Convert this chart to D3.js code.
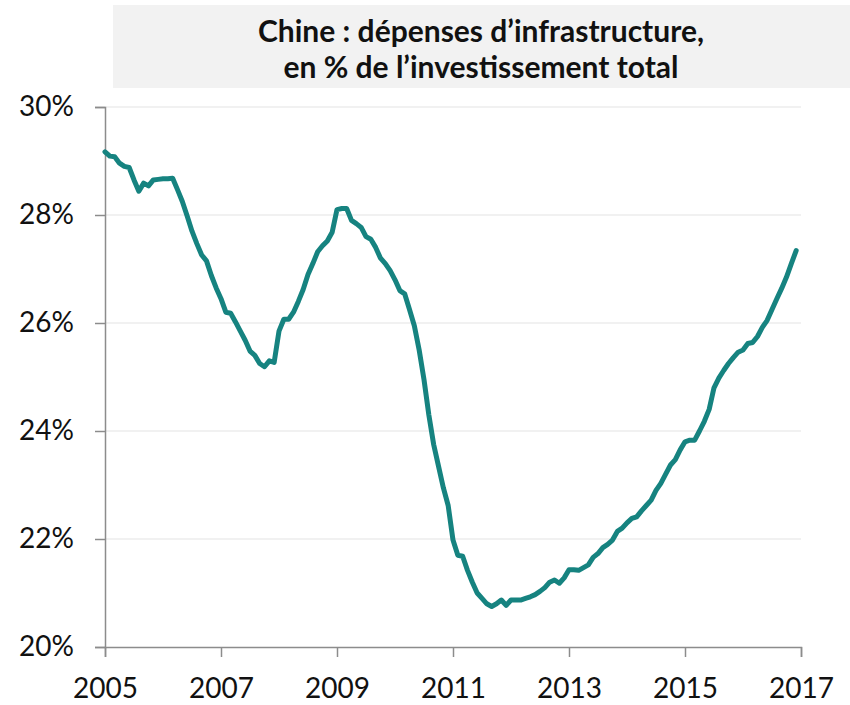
<!DOCTYPE html>
<html><head><meta charset="utf-8">
<script src="https://cdnjs.cloudflare.com/ajax/libs/d3/7.8.5/d3.min.js"></script>
<style>
html,body{margin:0;padding:0;background:#fff;}
svg{display:block;}
</style></head>
<body>
<svg id="chart" width="850" height="705"></svg>
<script>
const startYear = 2005;
const titleLines = ["Chine : dépenses d’infrastructure,", "en % de l’investissement total"];
const yTicks = [20, 22, 24, 26, 28, 30];
const xTickYears = [2005, 2007, 2009, 2011, 2013, 2015, 2017];
// monthly values, Jan 2005 .. Dec 2016 (% of total investment)
const values2005 = [29.17,29.09,29.08,28.96,28.90,28.88,28.65,28.44,28.59,28.54,28.65,28.66];
const values2006 = [28.67,28.67,28.68,28.47,28.25,27.98,27.70,27.47,27.26,27.15,26.88,26.65];
const values2007 = [26.45,26.20,26.18,26.02,25.85,25.68,25.48,25.40,25.25,25.19,25.30,25.27];
const values2008 = [25.85,26.07,26.07,26.20,26.40,26.62,26.90,27.10,27.32,27.43,27.52,27.68];
const values2009 = [28.10,28.12,28.12,27.90,27.84,27.77,27.60,27.55,27.40,27.20,27.10,26.97];
const values2010 = [26.80,26.60,26.54,26.25,25.95,25.50,24.95,24.30,23.75,23.35,22.95,22.62];
const values2011 = [21.98,21.70,21.68,21.42,21.20,21.00,20.90,20.80,20.75,20.80,20.87,20.77];
const values2012 = [20.87,20.87,20.87,20.90,20.93,20.97,21.03,21.10,21.20,21.24,21.18,21.28];
const values2013 = [21.43,21.43,21.42,21.47,21.52,21.66,21.73,21.84,21.90,21.98,22.14,22.20];
const values2014 = [22.30,22.38,22.41,22.52,22.62,22.72,22.90,23.03,23.20,23.37,23.47,23.65];
const values2015 = [23.80,23.83,23.83,24.00,24.18,24.40,24.80,24.98,25.12,25.25,25.36,25.46];
const values2016 = [25.50,25.62,25.64,25.75,25.92,26.05,26.25,26.45,26.64,26.85,27.10,27.34];

const series = [].concat(values2005, values2006, values2007, values2008, values2009, values2010,
  values2011, values2012, values2013, values2014, values2015, values2016);
const data = series.map((v, i) => ({t: startYear + i / 12, v}));

const svg = d3.select("#chart");
const font = "Lato, 'Open Sans', sans-serif";
const mLeft = 105, mRight = 801, mTop = 107, mBottom = 647;

const x = d3.scaleLinear().domain([2005, 2017]).range([mLeft, mRight]);
const y = d3.scaleLinear().domain([20, 30]).range([mBottom, mTop]);

// title box
svg.append("rect").attr("x", 113).attr("y", 5).attr("width", 737).attr("height", 83).attr("fill", "#f2f2f2");
svg.selectAll("text.title").data(titleLines).join("text")
  .attr("class", "title")
  .attr("x", 481).attr("y", (d, i) => 42 + i * 36)
  .attr("text-anchor", "middle")
  .attr("font-family", font).attr("font-weight", "bold").attr("font-size", 30)
  .attr("fill", "#111").text(d => d);

// gridlines
svg.append("g").selectAll("line").data(yTicks.filter(d => d > 20)).join("line")
  .attr("x1", mLeft).attr("x2", mRight).attr("y1", d => y(d)).attr("y2", d => y(d))
  .attr("stroke", "#e3e3e3").attr("stroke-width", 1.2);

// y axis
const yAxis = svg.append("g").attr("transform", `translate(${mLeft},0)`)
  .call(d3.axisLeft(y).tickValues(yTicks).tickSize(10).tickPadding(21).tickFormat(d => d + "%"));
yAxis.select(".domain").attr("stroke", "#8c8c8c").attr("stroke-width", 1.5);
yAxis.selectAll(".tick line").attr("stroke", "#8c8c8c").attr("stroke-width", 1.5);
yAxis.selectAll(".tick text").attr("font-family", font).attr("font-size", 28).attr("fill", "#111");

// x axis
const xAxis = svg.append("g").attr("transform", `translate(0,${mBottom})`)
  .call(d3.axisBottom(x).tickValues(xTickYears).tickSize(10).tickPadding(21).tickFormat(d3.format("d")));
xAxis.select(".domain").attr("stroke", "#8c8c8c").attr("stroke-width", 1.5);
xAxis.selectAll(".tick line").attr("stroke", "#8c8c8c").attr("stroke-width", 1.5);
xAxis.selectAll(".tick text").attr("font-family", font).attr("font-size", 28).attr("fill", "#111");

// line
svg.append("path").datum(data)
  .attr("fill", "none").attr("stroke", "#168380").attr("stroke-width", 5)
  .attr("stroke-linejoin", "round").attr("stroke-linecap", "round")
  .attr("d", d3.line().x(d => x(d.t)).y(d => y(d.v)));
</script>
</body></html>
